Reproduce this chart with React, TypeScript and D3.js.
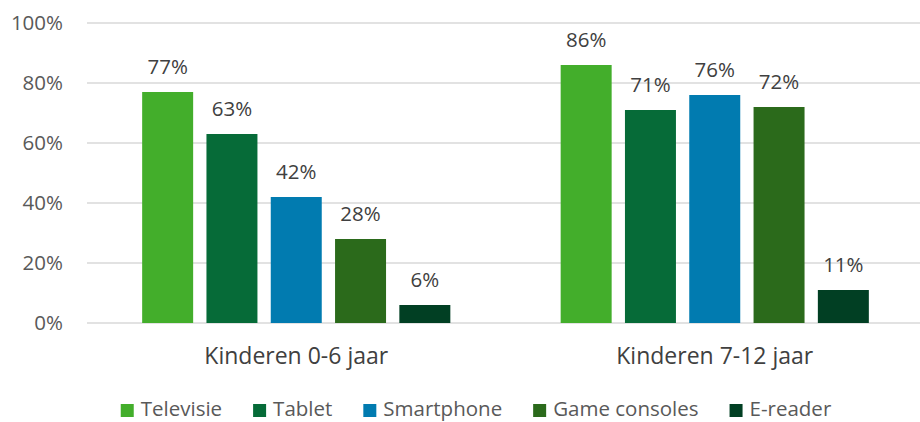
import React, { useEffect, useRef } from 'react';
import * as d3 from 'd3';

const categories = ['Kinderen 0-6 jaar', 'Kinderen 7-12 jaar'];
const series = ['Televisie', 'Tablet', 'Smartphone', 'Game consoles', 'E-reader'];
const colors = ['#43AE2B', '#066B38', '#017BB0', '#2B6A1B', '#013F23'];
const values = [
  [77, 63, 42, 28, 6],
  [86, 71, 76, 72, 11],
];
const yTicks = [0, 20, 40, 60, 80, 100];

export default function App() {
  const ref = useRef<SVGSVGElement>(null);

  useEffect(() => {
    if (!ref.current) return;
    const svg = d3.select(ref.current);
    svg.selectAll('*').remove();

    const W = 920;
    const font = '"Open Sans", sans-serif';
    const left = 87, right = 924, top = 23, bottom = 323;

    const y = d3.scaleLinear().domain([0, 100]).range([bottom, top]);
    const x0 = d3.scaleBand<string>().domain(categories).range([left, right])
      .paddingInner(0.2).paddingOuter(0.1);
    const x1 = d3.scaleBand<string>().domain(series).range([0, x0.bandwidth()]).padding(0.207);

    // gridlines
    svg.append('g').selectAll('line').data(yTicks).enter().append('line')
      .attr('x1', left).attr('x2', W)
      .attr('y1', d => y(d)).attr('y2', d => y(d))
      .attr('stroke', '#d9d9d9').attr('stroke-width', 1.3);

    svg.append('g').selectAll('text').data(yTicks).enter().append('text')
      .attr('x', 63).attr('y', d => y(d)).attr('dy', '0.35em')
      .attr('text-anchor', 'end')
      .style('font-family', font).style('font-size', '20.5px').style('fill', '#595959')
      .text(d => `${d}%`);

    const groups = svg.append('g').selectAll('g').data(categories).enter().append('g')
      .attr('transform', c => `translate(${x0(c)},0)`);

    groups.selectAll('rect')
      .data((c, ci) => series.map((s, si) => ({ s, si, v: values[ci][si] })))
      .enter().append('rect')
      .attr('x', d => x1(d.s)!)
      .attr('y', d => y(d.v))
      .attr('width', x1.bandwidth())
      .attr('height', d => bottom - y(d.v))
      .attr('fill', d => colors[d.si]);

    groups.selectAll('text.lbl')
      .data((c, ci) => series.map((s, si) => ({ s, si, v: values[ci][si] })))
      .enter().append('text')
      .attr('class', 'lbl')
      .attr('x', d => x1(d.s)! + x1.bandwidth() / 2)
      .attr('y', d => y(d.v) - 18)
      .attr('text-anchor', 'middle')
      .style('font-family', font).style('font-size', '20.5px').style('fill', '#404040')
      .text(d => `${d.v}%`);

    svg.append('g').selectAll('text').data(categories).enter().append('text')
      .attr('x', c => x0(c)! + x0.bandwidth() / 2)
      .attr('y', 364)
      .attr('text-anchor', 'middle')
      .style('font-family', font).style('font-size', '23px').style('fill', '#404040')
      .text(c => c);

    // legend
    const legend = svg.append('g');
    let lx = 0;
    series.forEach((s, i) => {
      const item = legend.append('g').attr('transform', `translate(${lx},0)`);
      item.append('rect').attr('x', 0).attr('y', 404).attr('width', 13).attr('height', 13)
        .attr('fill', colors[i]);
      const t = item.append('text').attr('x', 20).attr('y', 416)
        .style('font-family', font).style('font-size', '20.5px').style('fill', '#595959')
        .text(s);
      const w = (t.node() as SVGTextElement).getComputedTextLength();
      lx += 20 + w + 31;
    });
    const total = lx - 31;
    legend.attr('transform', `translate(${476 - total / 2},0)`);
  }, []);

  return (
    <svg ref={ref} width={920} height={422}
      style={{ position: 'absolute', left: 0, top: 0, background: '#fff' }} />
  );
}
